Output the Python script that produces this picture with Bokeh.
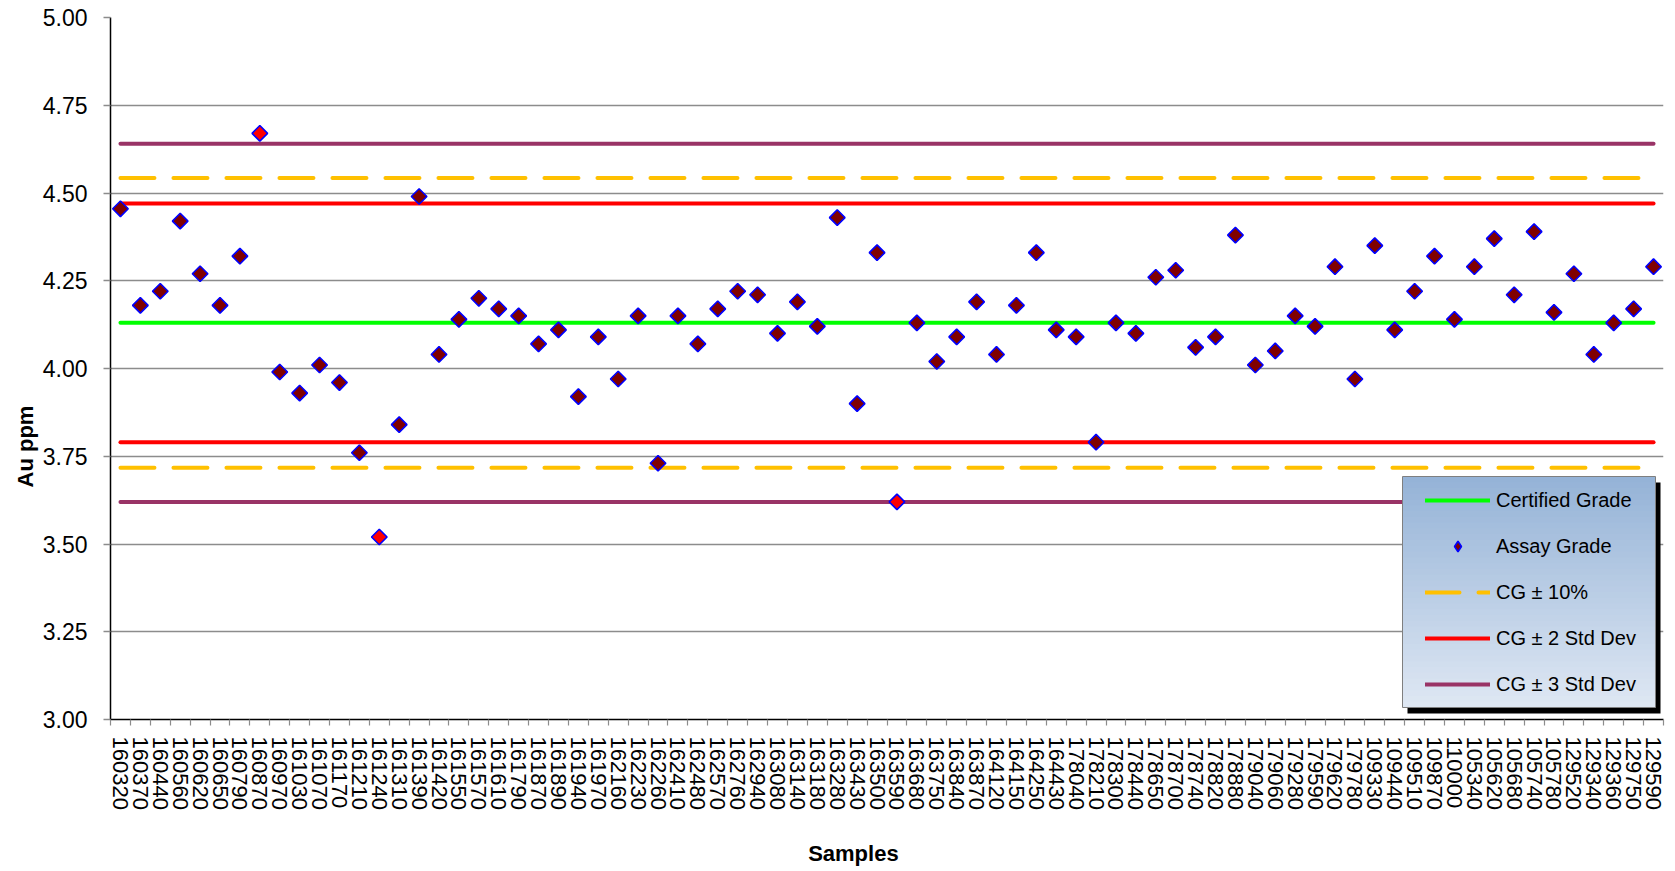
import numpy as np
from bokeh.plotting import figure
from bokeh.models import (FixedTicker, NumeralTickFormatter, Legend, LegendItem,
                          BoxAnnotation, Title, Range1d)
from bokeh.embed import file_html
from bokeh.resources import INLINE

# ---------------- data ----------------
samples = [
    "160320", "160370", "160440", "160560", "160620", "160650", "160790", "160870",
    "160970", "161030", "161070", "161170", "161210", "161240", "161310", "161390",
    "161420", "161550", "161570", "161610", "161790", "161870", "161890", "161940",
    "161970", "162160", "162230", "162260", "162410", "162480", "162570", "162760",
    "162940", "163080", "163140", "163180", "163280", "163430", "163500", "163590",
    "163680", "163750", "163840", "163870", "164120", "164150", "164250", "164430",
    "178040", "178210", "178300", "178440", "178650", "178700", "178740", "178820",
    "178880", "179040", "179060", "179280", "179590", "179620", "179780", "109330",
    "109440", "109510", "109870", "110000", "105340", "105620", "105680", "105740",
    "105780", "129520", "129340", "129360", "129750", "129590",
]
assay_grade = [
    4.455, 4.18, 4.22, 4.42, 4.27, 4.18, 4.32, 4.67,
    3.99, 3.93, 4.01, 3.96, 3.76, 3.52, 3.84, 4.49,
    4.04, 4.14, 4.20, 4.17, 4.15, 4.07, 4.11, 3.92,
    4.09, 3.97, 4.15, 3.73, 4.15, 4.07, 4.17, 4.22,
    4.21, 4.10, 4.19, 4.12, 4.43, 3.90, 4.33, 3.62,
    4.13, 4.02, 4.09, 4.19, 4.04, 4.18, 4.33, 4.11,
    4.09, 3.79, 4.13, 4.10, 4.26, 4.28, 4.06, 4.09,
    4.38, 4.01, 4.05, 4.15, 4.12, 4.29, 3.97, 4.35,
    4.11, 4.22, 4.32, 4.14, 4.29, 4.37, 4.21, 4.39,
    4.16, 4.27, 4.04, 4.13, 4.17, 4.29,
]
certified_grade = [4.13]
cg_10pct = [3.717, 4.543]
cg_2sd = [3.79, 4.47]
cg_3sd = [3.62, 4.64]
y_ticks = [3.00, 3.25, 3.50, 3.75, 4.00, 4.25, 4.50, 4.75, 5.00]

n = len(samples)
idx = list(range(n))
line_x = [idx[0], idx[-1]]

# ---------------- layout ----------------
W, H = 1668, 870
BL, BR, BT, BB = 110, 5, 17, 151
FX0, FX1 = BL, W - BR
FY0, FY1 = BT, H - BB
YMIN, YMAX = 3.0, 5.0


def X(px):
    return -0.5 + (px - FX0) / (FX1 - FX0) * n


def Y(py):
    return YMAX - (py - FY0) / (FY1 - FY0) * (YMAX - YMIN)


FONT = "Liberation Sans"
GRID = "#8c8c8c"

p = figure(width=W, height=H, output_backend="svg", toolbar_location=None,
           x_range=Range1d(-0.5, n - 0.5), y_range=Range1d(YMIN, YMAX),
           min_border_left=BL, min_border_right=BR, min_border_top=BT,
           min_border_bottom=BB)
p.outline_line_color = None
p.background_fill_color = "white"
p.border_fill_color = "white"

# axes
p.xaxis.ticker = FixedTicker(ticks=idx, minor_ticks=[i - 0.5 for i in range(n + 1)])
p.xaxis.major_label_overrides = {i: s for i, s in enumerate(samples)}
p.xaxis.major_label_orientation = "vertical"
p.xaxis.major_tick_line_color = None
p.xaxis.major_tick_out = 0
p.xaxis.major_tick_in = 0
p.xaxis.minor_tick_out = 6
p.xaxis.minor_tick_in = 0
p.xaxis.minor_tick_line_color = GRID
p.xaxis.minor_tick_line_width = 1.2
p.xaxis.major_label_standoff = 11
p.xaxis.major_label_text_font = FONT
p.xaxis.major_label_text_font_size = "22px"
p.xaxis.major_label_text_color = "black"
p.xaxis.axis_line_color = "black"
p.xaxis.axis_line_width = 1.5
# axis title sits left of the frame centre in the reference: trailing no-break spaces shift it
p.xaxis.axis_label = "Samples" + "\u00a0" * 11
p.xaxis.axis_label_standoff = 28
p.xaxis.axis_label_text_font = FONT
p.xaxis.axis_label_text_font_size = "22px"
p.xaxis.axis_label_text_font_style = "bold"
p.xaxis.axis_label_text_color = "black"

p.yaxis.ticker = FixedTicker(ticks=y_ticks)
p.yaxis.formatter = NumeralTickFormatter(format="0.00")
p.yaxis.major_tick_out = 7
p.yaxis.major_tick_in = 0
p.yaxis.major_tick_line_color = GRID
p.yaxis.major_tick_line_width = 1.5
p.yaxis.minor_tick_line_color = None
p.yaxis.major_label_standoff = 16
p.yaxis.major_label_text_font = FONT
p.yaxis.major_label_text_font_size = "23px"
p.yaxis.major_label_text_color = "black"
p.yaxis.axis_line_color = "black"
p.yaxis.axis_line_width = 1.5

p.xgrid.visible = False
p.ygrid.grid_line_color = GRID
p.ygrid.grid_line_width = 1.5

# horizontal reference lines
LW = 4
r_3a = p.line(line_x, [cg_3sd[0]] * 2, line_color="#993366", line_width=LW, line_cap="round")
p.line(line_x, [cg_3sd[1]] * 2, line_color="#993366", line_width=LW, line_cap="round")
r_10a = p.line(line_x, [cg_10pct[0]] * 2, line_color="#FFC000", line_width=LW,
               line_cap="round", line_dash="34 19")
p.line(line_x, [cg_10pct[1]] * 2, line_color="#FFC000", line_width=LW,
       line_cap="round", line_dash="34 19")
r_2a = p.line(line_x, [cg_2sd[0]] * 2, line_color="#FF0000", line_width=LW, line_cap="round")
p.line(line_x, [cg_2sd[1]] * 2, line_color="#FF0000", line_width=LW, line_cap="round")
r_cg = p.line(line_x, certified_grade * 2, line_color="#00FF00", line_width=LW, line_cap="round")

fills = ["#FF0000" if (v > cg_3sd[1] or v <= cg_3sd[0]) else "#800000" for v in assay_grade]
r_pts = p.scatter(x=idx, y=assay_grade, marker="square", angle=np.pi / 4, size=11,
                  fill_color=fills, line_color="#0000FF", line_width=1.6)
# legend-only glyph (diamond look for the legend swatch); its single value is NaN so nothing is plotted
r_leg = p.scatter(x=np.array([np.nan]), y=np.array([np.nan]), marker="diamond", size=15,
                  fill_color="#800000", line_color="#0000FF", line_width=1.6)

# legend box (shadow, gradient, border)
LL, LR, LT, LB = 1402, 1655, 476, 707
p.add_layout(BoxAnnotation(left=X(LL + 5), right=X(LR + 5), top=Y(LT + 6), bottom=Y(LB + 6),
                           fill_color="black", fill_alpha=1, line_color=None))
top_c = np.array([149, 179, 215])
bot_c = np.array([222, 231, 243])
steps = 40
for k in range(steps):
    t = k / (steps - 1)
    c = (top_c + (bot_c - top_c) * t).round().astype(int)
    y0 = LT + (LB - LT) * k / steps
    y1 = min(LT + (LB - LT) * (k + 1) / steps + 1, LB)
    p.add_layout(BoxAnnotation(left=X(LL), right=X(LR), top=Y(y0), bottom=Y(y1),
                               fill_color="#%02x%02x%02x" % tuple(c), fill_alpha=1,
                               line_color=None))
p.add_layout(BoxAnnotation(left=X(LL), right=X(LR), top=Y(LT), bottom=Y(LB),
                           fill_alpha=0, line_color="#7f7f7f", line_width=1, line_alpha=1))

legend = Legend(items=[
    LegendItem(label="Certified Grade", renderers=[r_cg]),
    LegendItem(label="Assay Grade", renderers=[r_leg]),
    LegendItem(label="CG ± 10%", renderers=[r_10a]),
    LegendItem(label="CG ± 2 Std Dev", renderers=[r_2a]),
    LegendItem(label="CG ± 3 Std Dev", renderers=[r_3a]),
], location=(1415 - FX0, FY1 - 707), padding=10, margin=0, spacing=20,
    glyph_width=65, glyph_height=26, label_height=26, label_standoff=6,
    label_text_font=FONT, label_text_font_size="20px", label_text_color="black",
    background_fill_alpha=0, border_line_alpha=0)
p.add_layout(legend)

# y-axis title (placed as a title so it can sit below the frame centre like the reference)
kw_l = dict(text="Au ppm", align="left", offset=FY1 - 487, text_font=FONT,
            text_font_size="22px", text_font_style="bold", text_color="black")
if "standoff" in Title.properties():
    kw_l["standoff"] = 4
p.add_layout(Title(**kw_l), "left")

open("out.html", "w").write(file_html(p, INLINE))
